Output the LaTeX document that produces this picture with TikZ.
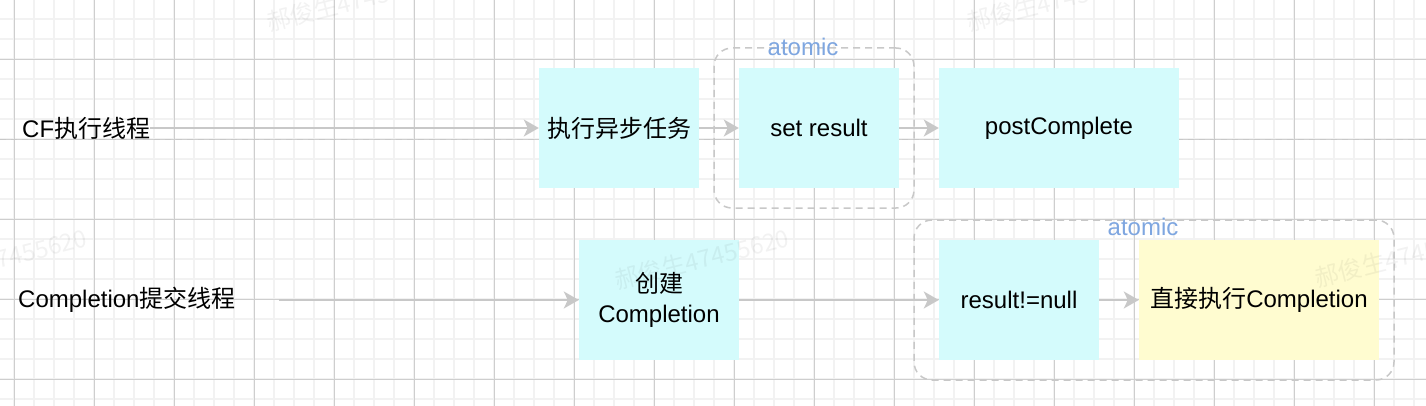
\documentclass[tikz,border=0pt]{standalone}
\usepackage{fontspec}
\setmainfont{Liberation Sans}
\newfontfamily\cjk{Noto Sans CJK SC}
\usetikzlibrary{arrows.meta}
\definecolor{gmajor}{RGB}{206,206,206}
\definecolor{gminor}{RGB}{242,242,242}
\definecolor{cyanfill}{RGB}{212,251,252}
\definecolor{yellowfill}{RGB}{255,252,208}
\definecolor{linegray}{RGB}{200,200,200}
\definecolor{atomicblue}{RGB}{126,166,224}
\tikzset{
  txt/.style={font=\fontsize{24}{30}\selectfont, text=black, inner sep=0pt, align=center},
  box/.style={txt, fill=cyanfill, draw=none, minimum width=160pt, minimum height=120pt},
  widebox/.style={box, minimum width=240pt},
  yellowbox/.style={widebox, fill=yellowfill},
  atomicbox/.style={draw=linegray, line width=1.5pt, dash pattern=on 7pt off 5pt, rounded corners=18pt, inner sep=0pt},
  atomiclabel/.style={font=\fontsize{24}{30}\selectfont, text=atomicblue, inner sep=0pt},
  arr/.style={draw=linegray, line width=2pt, -{Stealth[length=15pt,width=17pt,inset=4pt]}},
  sepline/.style={draw=linegray, line width=1.5pt, dash pattern=on 6pt off 5pt},
  wmark/.style={font=\cjk\fontsize{24}{30}\selectfont, text=black, text opacity=0.05, inner sep=0pt, rotate=14},
}
\begin{document}
\begin{tikzpicture}[x=1pt,y=-1pt]
\useasboundingbox (0,0) rectangle (1426,406);
\fill[white] (0,0) rectangle (1426,406);
% grid
\begin{scope}
\clip (0,0) rectangle (1426,406);
\foreach \i in {0,...,72} {\draw[gminor, line width=2pt] ({-5.7+20*\i},0) -- ++(0,406);}
\foreach \i in {0,...,21} {\draw[gminor, line width=2pt] (0,{-0.7+20*\i}) -- ++(1426,0);}
\foreach \i in {0,...,18} {\draw[gmajor, line width=1pt] ({14.3+80*\i},0) -- ++(0,406);}
\foreach \i in {0,...,5} {\draw[gmajor, line width=1pt] (0,{-20.7+80*\i}) -- ++(1426,0);}
\end{scope}
% separator
\coordinate (sepL) at (0,139.5);
\coordinate (sepR) at (1426,139.5);
\draw[sepline] (sepL) -- (sepR);
% atomic groups
\node[atomicbox, minimum width=200pt, minimum height=160pt] (a1) at (814,128) {};
\node[atomicbox, minimum width=480pt, minimum height=160pt] (a2) at (1154,300) {};
\node[atomiclabel] (t1) at (803,47) {atomic};
\node[atomiclabel] (t2) at (1143,227) {atomic};
% lane labels
\node[txt, anchor=west] (l1) at (22,128) {CF{\cjk 执行线程}};
\node[txt, anchor=west] (l2) at (18,300) {Completion{\cjk 提交线程}};
\coordinate (s2) at (279,300);
% boxes row 1
\node[box] (b1) at (619,128) {{\cjk 执行异步任务}};
\node[box] (b2) at (819,128) {set result};
\node[widebox] (b3) at (1059,128) {postComplete};
% boxes row 2
\node[box] (c1) at (659,300) {{\cjk 创建}\\Completion};
\node[box] (c2) at (1019,300) {result!=null};
\node[yellowbox] (c3) at (1259,300) {{\cjk 直接执行}Completion};
% arrows
\draw[arr] (l1.east) -- (b1.west);
\draw[arr] (b1.east) -- (b2.west);
\draw[arr] (b2.east) -- (b3.west);
\draw[arr] (s2) -- (c1.west);
\draw[arr] (c1.east) -- (c2.west);
\draw[arr] (c2.east) -- (c3.west);
% watermarks
\node[wmark] (w1) at (354,1) {郝俊生47455620};
\node[wmark] (w2) at (1054,1) {郝俊生47455620};
\node[wmark] (w3) at (0,259) {郝俊生47455620};
\node[wmark] (w4) at (702,259) {郝俊生47455620};
\node[wmark] (w5) at (1402,257) {郝俊生47455620};
\end{tikzpicture}
\end{document}
